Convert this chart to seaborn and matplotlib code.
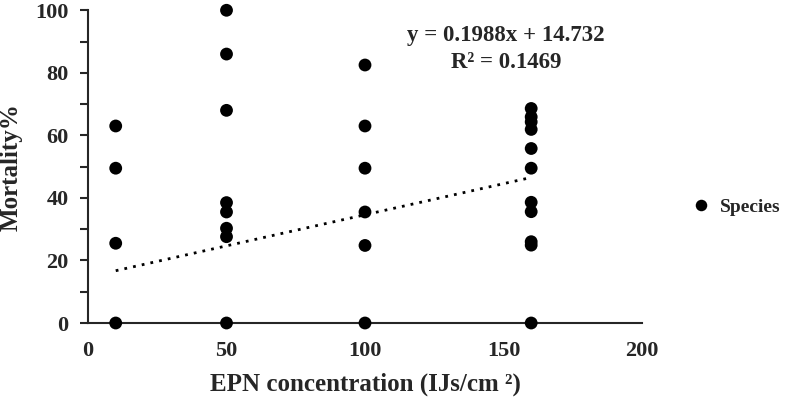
import pandas as pd
import matplotlib.pyplot as plt
import seaborn as sns

# EPN concentration (IJs/cm2) and mortality (%)
conc = [10, 10, 10, 10,
        50, 50, 50, 50, 50, 50, 50, 50,
        100, 100, 100, 100, 100, 100,
        160, 160, 160, 160, 160, 160, 160, 160, 160, 160, 160]
mortality = [63, 49.5, 25.5, 0,
             100, 86, 68, 38.5, 35.5, 30.3, 27.6, 0,
             82.5, 63, 49.5, 35.5, 24.8, 0,
             68.6, 65.9, 64.3, 61.9, 55.8, 49.5, 38.6, 35.6, 26, 24.9, 0]

# linear trendline as printed on the chart
slope = 0.1988
intercept = 14.732
r2 = 0.1469
x_ticks = [0, 50, 100, 150, 200]
y_ticks = [0, 20, 40, 60, 80, 100]

df = pd.DataFrame({"EPN": conc, "Mortality": mortality, "group": "Species"})

sns.set_style("ticks")
plt.rcParams["font.family"] = ["Liberation Serif", "DejaVu Serif"]
plt.rcParams["font.weight"] = "bold"

fig = plt.figure(figsize=(7.88, 4.03), dpi=100)
ax = fig.add_axes([0.1117, 0.1985, 0.703, 0.776])

sns.scatterplot(data=df, x="EPN", y="Mortality", hue="group", palette=["black"],
                s=85, edgecolor="black", linewidth=0, clip_on=False, ax=ax, zorder=3)

# trendline
trend = pd.DataFrame({"x": [min(conc), max(conc)]})
trend["y"] = slope * trend["x"] + intercept
sns.lineplot(data=trend, x="x", y="y", color="black", linestyle=(0, (1, 2.2)),
             linewidth=2, ax=ax, legend=False)

ax.set_xlim(0, 200)
ax.set_ylim(0, 100)
ax.set_xticks(x_ticks)
ax.set_yticks(y_ticks)
ax.set_yticks([10, 30, 50, 70, 90], minor=True)
sns.despine(ax=ax)
ax.spines["left"].set_linewidth(1.5)
ax.spines["bottom"].set_linewidth(1.5)
ax.tick_params(axis="y", which="both", direction="out", length=6, width=1.5,
               labelsize=16, pad=8)
ax.tick_params(axis="x", length=0, labelsize=16, pad=13)

ax.set_xlabel("EPN concentration (IJs/cm ²)", fontsize=18,
              fontweight="bold", labelpad=8)
ax.set_ylabel("Mortality%", fontsize=18, fontweight="bold")
ax.yaxis.set_label_coords(-0.118, 0.5)

ax.text(151, 92, f"y = {slope}x + {intercept}", ha="center", va="center",
        fontsize=16.5, fontweight="bold")
ax.text(151, 83.3, f"R² = {r2}", ha="center", va="center",
        fontsize=16.5, fontweight="bold")

ax.legend(loc="center left", bbox_to_anchor=(0.855, 0.486),
          bbox_transform=fig.transFigure, frameon=False, fontsize=14,
          handletextpad=0.0, markerscale=0.9, borderaxespad=0)

plt.savefig("out.png", dpi=100)
plt.close()
